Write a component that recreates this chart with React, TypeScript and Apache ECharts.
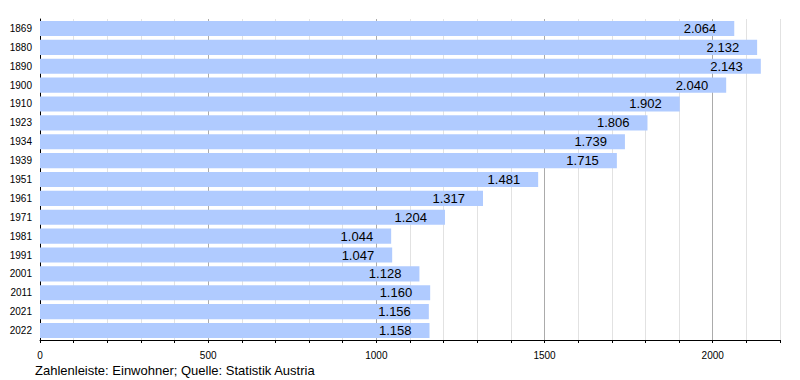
import React, { useEffect, useRef } from "react";
import * as echarts from "echarts";

const years = ["1869", "1880", "1890", "1900", "1910", "1923", "1934", "1939", "1951", "1961", "1971", "1981", "1991", "2001", "2011", "2021", "2022"];
const population = [2064, 2132, 2143, 2040, 1902, 1806, 1739, 1715, 1481, 1317, 1204, 1044, 1047, 1128, 1160, 1156, 1158];
const footnote = "Zahlenleiste: Einwohner; Quelle: Statistik Austria";

const FONT = "'Liberation Sans', Arial, sans-serif";

export default function App() {
  const ref = useRef<HTMLDivElement>(null);
  useEffect(() => {
    if (!ref.current) return;
    const chart = echarts.init(ref.current, null, { renderer: "svg" });
    const gridColors: string[] = [];
    for (let i = 0; i <= 22; i++) gridColors.push(i % 5 === 0 ? "#ababab" : "#e2e2e2");
    chart.setOption({
      animation: false,
      backgroundColor: "#ffffff",
      textStyle: { fontFamily: FONT },
      grid: { left: 40, right: 20, top: 19, bottom: 40, containLabel: false },
      xAxis: {
        type: "value",
        min: 0,
        max: 2200,
        interval: 100,
        axisLine: { show: true, lineStyle: { color: "#000", width: 1 } },
        axisTick: { show: true, length: 3, lineStyle: { color: "#000" } },
        axisLabel: {
          interval: 0,
          color: "#000",
          fontSize: 10,
          fontFamily: FONT,
          margin: 10,
          formatter: (v: number) => (v % 500 === 0 ? String(v) : ""),
        },
        splitLine: { show: true, lineStyle: { color: gridColors, width: 1 } },
      },
      yAxis: {
        type: "category",
        data: years,
        inverse: true,
        axisLine: { show: true, lineStyle: { color: "#000", width: 1 } },
        axisTick: { show: false },
        axisLabel: { color: "#000", fontSize: 10, fontFamily: FONT, margin: 8 },
        splitLine: { show: false },
      },
      series: [
        {
          type: "bar",
          data: population,
          barCategoryGap: "20%",
          itemStyle: { color: "#b0cbff" },
          label: {
            show: true,
            position: "insideRight",
            distance: 18,
            color: "#000",
            fontSize: 13,
            fontFamily: FONT,
            formatter: (p: any) => {
              const v = String(p.value);
              return v.length > 3 ? v.slice(0, v.length - 3) + "." + v.slice(v.length - 3) : v;
            },
          },
        },
      ],
      graphic: [
        {
          type: "text",
          left: 35,
          top: 364,
          style: { text: footnote, fill: "#000", fontSize: 13, fontFamily: FONT },
        },
      ],
    });
    return () => chart.dispose();
  }, []);
  return <div ref={ref} style={{ position: "absolute", left: 0, top: 0, width: 800, height: 380 }} />;
}
